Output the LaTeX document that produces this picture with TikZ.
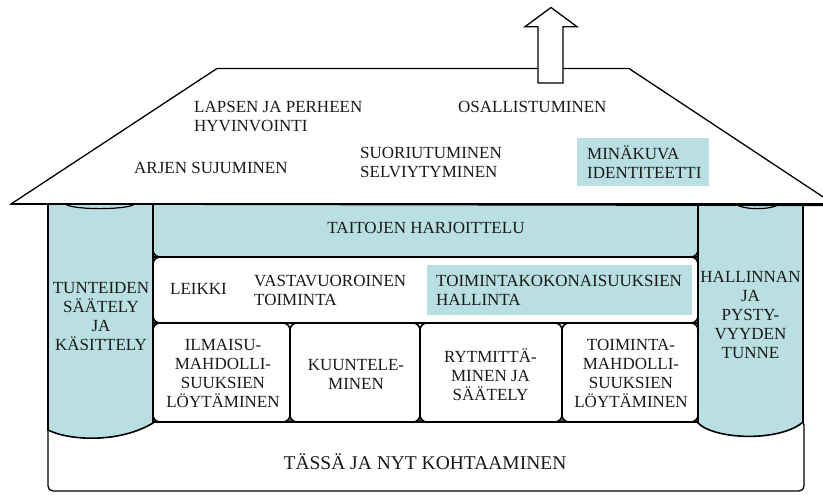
\documentclass[tikz,border=0pt]{standalone}
\usepackage{fontspec}
\setmainfont{Liberation Serif}
\definecolor{tealfill}{RGB}{185,223,226}
\begin{document}
\begin{tikzpicture}[x=1pt,y=-1pt,
  cellbox/.style={draw=black,line width=1.6pt,rounded corners=7pt},
  frameline/.style={draw=black,line width=1.6pt},
  pillar/.style={draw=black,line width=1.6pt,fill=tealfill},
  roofline/.style={draw=black,line width=1.3pt},
  hilite/.style={fill=tealfill,draw=none},
  txt/.style={font=\fontsize{17}{19}\selectfont,inner sep=0pt,align=center,text=black!90},
  txtl/.style={font=\fontsize{17}{19}\selectfont,inner sep=0pt,align=left,anchor=west,text=black!90},
]
\useasboundingbox (0,0) rectangle (823,495);
% base
\draw[roofline,fill=white,rounded corners=5pt] (48,420) rectangle (804,491);
% middle band and rows
\draw[cellbox,fill=tealfill] (153,200) rectangle (698,257);
\draw[cellbox,fill=white] (153,257) rectangle (698,323);
\draw[cellbox,fill=white] (153,323) rectangle (290,422);
\draw[cellbox,fill=white] (290,323) rectangle (420,422);
\draw[cellbox,fill=white] (420,323) rectangle (562,422);
\draw[cellbox,fill=white] (562,323) rectangle (698,422);
\draw[frameline] (153,257) -- (698,257);
\draw[frameline] (153,323) -- (698,323);
\draw[frameline] (153,422) -- (698,422);
% pillars
\draw[pillar] (48,204) -- (48,430) .. controls (70,441) and (120,443) .. (153,423) -- (153,204);
\draw[pillar] (698,204) -- (698,423) .. controls (715,440) and (780,442) .. (803,422) -- (803,204);
% roof
\draw[roofline,fill=white] (11,204) -- (217,68.5) -- (629,68.5) -- (836,205.5) -- (11,204) -- cycle;
\draw[roofline] (11,204) -- (823,204);
% pillar tops
\draw[frameline,line width=1.2pt] (66,204.5) .. controls (75,210) and (125,210) .. (134,204.5);
\draw[frameline,line width=1.2pt] (736,204.5) .. controls (745,210) and (770,210) .. (779,204.5);
% arrow
\draw[roofline,fill=white] (538,83) -- (538,26.7) -- (525,26.7) -- (551,7.5) -- (577,26.7) -- (563,26.7) -- (563,83) -- cycle;
% highlight boxes
\fill[hilite] (577,138) rectangle (709,186);
\fill[hilite] (427,265) rectangle (692,315);
% roof texts
\node[txtl] (lapsen) at (194,117) {LAPSEN JA PERHEEN\\HYVINVOINTI};
\node[txtl] (osall) at (458,107) {OSALLISTUMINEN};
\node[txtl] (arjen) at (134,168) {ARJEN SUJUMINEN};
\node[txtl] (suor) at (360,162.5) {SUORIUTUMINEN\\SELVIYTYMINEN};
\node[txtl] (mina) at (587,162.5) {MINÄKUVA\\IDENTITEETTI};
% band and row 2
\node[txt] (taidot) at (426,228) {TAITOJEN HARJOITTELU};
\node[txtl] (leikki) at (170,289) {LEIKKI};
\node[txtl] (vasta) at (254,290) {VASTAVUOROINEN\\TOIMINTA};
\node[txtl] (kokon) at (436,290) {TOIMINTAKOKONAISUUKSIEN\\HALLINTA};
% pillars
\node[txt] (tunteet) at (101,317) {TUNTEIDEN\\SÄÄTELY\\JA\\KÄSITTELY};
\node[txt] (hallinta) at (750.5,315) {HALLINNAN\\JA\\PYSTY-\\VYYDEN\\TUNNE};
% row 3
\node[txt] (ilmaisu) at (223,373.5) {ILMAISU-\\MAHDOLLI-\\SUUKSIEN\\LÖYTÄMINEN};
\node[txt] (kuuntelu) at (356,374) {KUUNTELE-\\MINEN};
\node[txt] (rytmi) at (490.5,375) {RYTMITTÄ-\\MINEN JA\\SÄÄTELY};
\node[txt] (toiminta) at (631,373.5) {TOIMINTA-\\MAHDOLLI-\\SUUKSIEN\\LÖYTÄMINEN};
% base
\node[txt,font=\fontsize{19.5}{22}\selectfont] (tassa) at (425,462) {TÄSSÄ JA NYT KOHTAAMINEN};
\end{tikzpicture}
\end{document}
